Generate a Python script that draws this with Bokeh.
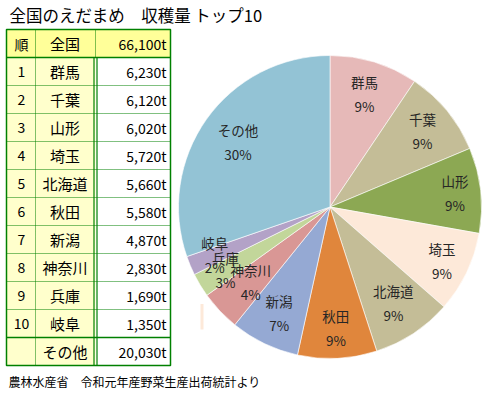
import math
from bokeh.plotting import figure
from bokeh.models import Range1d
from bokeh.core.properties import value
from bokeh.embed import file_html
from bokeh.resources import INLINE

# ---------------- data ----------------
title_text = "全国のえだまめ　収穫量 トップ10"
source_text = "農林水産省　令和元年産野菜生産出荷統計より"
header_rank = "順"
total_label = "全国"
total_value = 66100
ranks = ["1", "2", "3", "4", "5", "6", "7", "8", "9", "10", ""]
prefectures = ["群馬", "千葉", "山形", "埼玉", "北海道", "秋田", "新潟", "神奈川", "兵庫", "岐阜", "その他"]
harvest_t = [6230, 6120, 6020, 5720, 5660, 5580, 4870, 2830, 1690, 1350, 20030]
pct_labels = ["9%", "9%", "9%", "9%", "9%", "9%", "7%", "4%", "3%", "2%", "30%"]
slice_colors = ["#E6B9B8", "#C4BD97", "#8CA853", "#FDE9D9", "#C4BD97", "#E0863C",
                "#95A9D3", "#D99795", "#C2D69A", "#B3A2C7", "#93C3D5"]

# ---------------- layout ----------------
OX = 2          # page pixel where the figure starts
W, H = 487, 393
FONT = value("Noto Sans CJK JP")
GREEN = "#008000"


def Y(ref_y):
    # page pixel y (top-down) -> data y (bottom-up)
    return 397 - ref_y


p = figure(width=W, height=H, x_range=Range1d(OX, OX + W), y_range=Range1d(397 - OX - H, 397 - OX),
           output_backend="svg", toolbar_location=None, min_border=0,
           x_axis_type=None, y_axis_type=None)
p.grid.visible = False
p.outline_line_color = None
p.background_fill_color = "white"
p.border_fill_color = "white"

# title + source
p.text(x=[11], y=[Y(16)], text=[title_text], text_font=FONT, text_font_size="16.5px",
       text_align="left", text_baseline="middle", text_color="#000000")
p.text(x=[10], y=[Y(383)], text=[source_text], text_font=FONT, text_font_size="12px",
       text_align="left", text_baseline="middle", text_color="#000000")

# ---------------- table ----------------
TX0, TX1, TX2, TX3 = 8, 37, 97, 172
TY0, ROW = 31, 28
n = len(prefectures)
TY_HEAD = TY0 + ROW
TY_END = TY_HEAD + ROW * n

p.quad(left=[TX0], right=[TX3], top=[Y(TY0)], bottom=[Y(TY_HEAD)], fill_color="#FFFF99", line_color=None)
p.quad(left=[TX0], right=[TX2], top=[Y(TY_HEAD)], bottom=[Y(TY_END)], fill_color="#FFFFCC", line_color=None)

# dotted inner lines
dot_y = [TY_HEAD + ROW * k for k in range(1, n - 1)]
p.segment(x0=[TX0] * len(dot_y), x1=[TX3] * len(dot_y), y0=[Y(v) for v in dot_y], y1=[Y(v) for v in dot_y],
          line_color=GREEN, line_width=1, line_dash="1 1")
p.segment(x0=[TX1], x1=[TX1], y0=[Y(TY0)], y1=[Y(TY_END)], line_color=GREEN, line_width=1, line_dash="1 1")
p.segment(x0=[TX2], x1=[TX2], y0=[Y(TY0)], y1=[Y(TY_HEAD)], line_color=GREEN, line_width=1, line_dash="1 1")
# solid lines
sep = TY_HEAD + ROW * (n - 1)
p.segment(x0=[TX0, TX0], x1=[TX3, TX3], y0=[Y(TY_HEAD), Y(sep)], y1=[Y(TY_HEAD), Y(sep)],
          line_color=GREEN, line_width=1.3)
p.segment(x0=[TX2 - 1.5, TX2 + 1.5], x1=[TX2 - 1.5, TX2 + 1.5], y0=[Y(TY_HEAD)] * 2, y1=[Y(TY_END)] * 2,
          line_color=GREEN, line_width=1.2)
p.quad(left=[TX0], right=[TX3], top=[Y(TY0)], bottom=[Y(TY_END)], fill_color=None,
       line_color=GREEN, line_width=1.5)

# table texts
row_c = [TY0 + ROW / 2] + [TY_HEAD + ROW * i + ROW / 2 for i in range(n)]
col1_txt = [header_rank] + ranks
col2_txt = [total_label] + prefectures
col3_txt = [f"{total_value:,}t"] + [f"{v:,}t" for v in harvest_t]
p.text(x=[(TX0 + TX1) / 2 + 0.5] * len(row_c), y=[Y(v) for v in row_c], text=col1_txt, text_font=FONT,
       text_font_size="14px", text_align="center", text_baseline="middle", text_color="#000000")
p.text(x=[(TX1 + TX2) / 2 - 0.5] * len(row_c), y=[Y(v) for v in row_c], text=col2_txt, text_font=FONT,
       text_font_size="15px", text_align="center", text_baseline="middle", text_color="#000000")
p.text(x=[TX3 - 4] * len(row_c), y=[Y(v) for v in row_c], text=col3_txt, text_font=FONT,
       text_font_size="14px", text_align="right", text_baseline="middle", text_color="#000000")

# ---------------- pie ----------------
CX, CY, R = 331.5, 208.5, 151.5
total = sum(harvest_t)
label_r = [0.78, 0.79, 0.83, 0.82, 0.76, 0.80, 0.775, 0.72, 0.805, 0.825, 0.745]
starts, ends, lx, ly = [], [], [], []
cum = 0
for i, v in enumerate(harvest_t):
    a0 = cum / total * 2 * math.pi
    a1 = (cum + v) / total * 2 * math.pi
    starts.append(math.pi / 2 - a0)
    ends.append(math.pi / 2 - a1)
    mid = (a0 + a1) / 2
    lx.append(CX + label_r[i] * R * math.sin(mid))
    ly.append(CY - label_r[i] * R * math.cos(mid))
    cum += v

p.wedge(x=[CX] * n, y=[Y(CY)] * n, radius=R, start_angle=starts, end_angle=ends,
        direction="clock", fill_color=slice_colors, line_color="white", line_width=0.6)

# small stray mark seen in the reference
p.quad(left=[202], right=[205], top=[Y(305.5)], bottom=[Y(331)], fill_color="#FDE9D9", line_color=None)

p.text(x=lx, y=[Y(v - 12) for v in ly], text=prefectures, text_font=FONT, text_font_size="13.5px",
       text_align="center", text_baseline="middle", text_color="#262626")
p.text(x=lx, y=[Y(v + 12) for v in ly], text=pct_labels, text_font=FONT, text_font_size="13.5px",
       text_align="center", text_baseline="middle", text_color="#262626")

open("out.html", "w").write(file_html(p, INLINE))
